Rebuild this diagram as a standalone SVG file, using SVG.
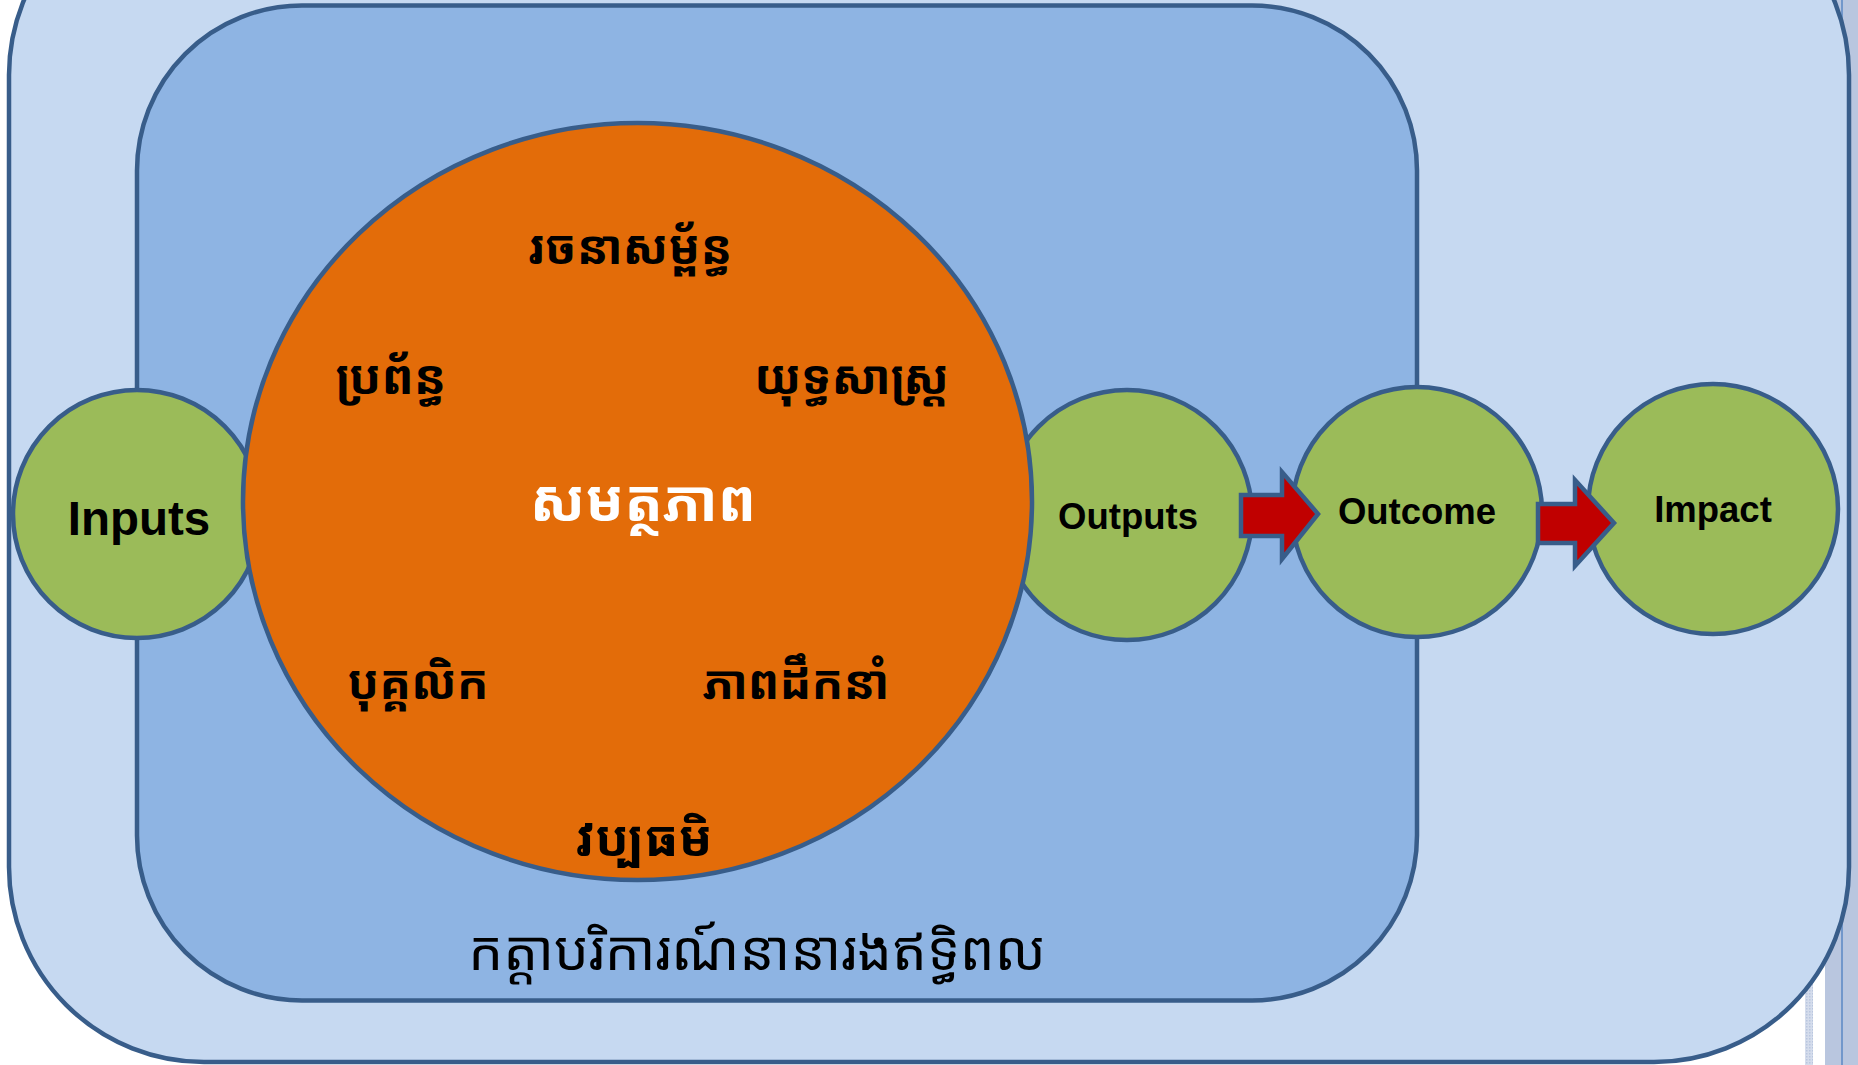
<svg xmlns="http://www.w3.org/2000/svg" width="1858" height="1065" viewBox="0 0 1858 1065">
<defs>
<style>
.box{stroke:#385d8a;stroke-width:4.5}
.green{fill:#9bbb59;stroke:#385d8a;stroke-width:4.5}
.lbl{font-family:"Liberation Sans",Arial,sans-serif;font-weight:bold;fill:#000;text-anchor:middle}
.km{font-family:"Noto Sans Khmer","Noto Serif Khmer","Khmer OS","Khmer OS System",sans-serif;font-weight:bold;text-anchor:middle;fill:#000}
.arrow{fill:#c00000;stroke:#385d8a;stroke-width:4.5;stroke-linejoin:miter}
</style>
<pattern id="dots" width="3" height="3" patternUnits="userSpaceOnUse">
<rect width="3" height="3" fill="#d4dcec"/>
<rect width="1.5" height="1.5" fill="#b9c6df"/>
</pattern>
</defs>
<rect width="1858" height="1065" fill="#ffffff"/>
<g id="background">
<rect x="1825" y="0" width="33" height="1065" fill="#b9c6df"/>
<line x1="1842" y1="0" x2="1842" y2="1065" stroke="#5b87c5" stroke-width="1.5"/>
<rect x="1805" y="975" width="8" height="90" fill="url(#dots)"/>
</g>
<g id="outer-box">
<rect class="box" x="9" y="-120" width="1840" height="1182" rx="195" ry="195" fill="#c6d9f1"/>
</g>
<g id="inner-box">
<rect class="box" x="137" y="5.5" width="1280" height="995" rx="165" ry="165" fill="#8eb4e3"/>
<text class="km" x="757" y="970" font-size="55" style="font-weight:normal">កត្តាបរិការណ៍នានារងឥទ្ធិពល</text>
</g>
<g id="node-inputs">
<circle class="green" cx="137" cy="514" r="124"/>
<text class="lbl" x="139" y="535" font-size="47.5">Inputs</text>
</g>
<g id="node-outputs">
<circle class="green" cx="1127" cy="515" r="125"/>
<text class="lbl" x="1128" y="529" font-size="36.5">Outputs</text>
</g>
<g id="node-outcome">
<circle class="green" cx="1417" cy="512" r="125"/>
<text class="lbl" x="1417" y="524" font-size="36.5">Outcome</text>
</g>
<g id="node-impact">
<circle class="green" cx="1713" cy="509" r="125"/>
<text class="lbl" x="1713" y="522" font-size="36.5">Impact</text>
</g>
<g id="node-capacity">
<ellipse cx="637.5" cy="501.5" rx="394.5" ry="378.5" fill="#e36c09" stroke="#385d8a" stroke-width="4.5"/>
<text class="km" x="630" y="264" font-size="47">រចនាសម្ព័ន្ធ</text>
<text class="km" x="391" y="394" font-size="48">ប្រព័ន្ធ</text>
<text class="km" x="852" y="394" font-size="47">យុទ្ធសាស្ត្រ</text>
<text class="km" x="643" y="521" font-size="57" style="fill:#ffffff">សមត្ថភាព</text>
<text class="km" x="418" y="699" font-size="47">បុគ្គលិក</text>
<text class="km" x="796" y="699" font-size="47">ភាពដឹកនាំ</text>
<text class="km" x="644" y="856" font-size="50">វប្បធមិ</text>
</g>
<g id="connectors">
<polygon class="arrow" points="1241,495 1282,495 1282,472 1318,514 1282,559 1282,536 1241,536"/>
<polygon class="arrow" points="1538,504 1575,504 1575,480 1614,523 1575,566 1575,543 1538,543"/>
</g>
</svg>
